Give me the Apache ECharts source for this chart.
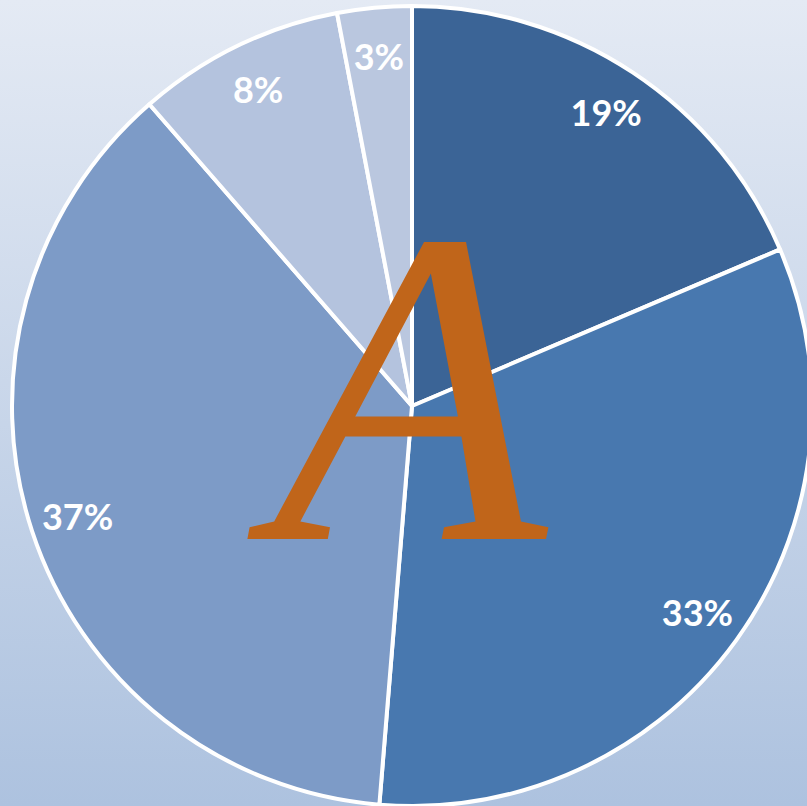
<!DOCTYPE html>
<html>
<head>
<meta charset="utf-8">
<script src="https://cdn.jsdelivr.net/npm/echarts@6/dist/echarts.min.js"></script>
<style>
  html, body { margin: 0; padding: 0; }
  #chart { width: 807px; height: 806px; }
</style>
</head>
<body>
<div id="chart"></div>
<script>
var sliceNames = ['A', 'B', 'C', 'D', 'E'];
var sliceValues = [18.6, 32.7, 37.3, 8.4, 3.0];
var sliceColors = ['#3B6496', '#4878AF', '#7D9BC7', '#B4C3DE', '#BAC7DF'];

(function() {
  var chart = echarts.init(document.getElementById('chart'), null, { renderer: 'svg' });

  var data = sliceValues.map(function(v, i) {
    return { name: sliceNames[i], value: v, itemStyle: { color: sliceColors[i] } };
  });

  chart.setOption({
    animation: false,
    backgroundColor: {
      type: 'linear', x: 0, y: 0, x2: 0, y2: 1,
      colorStops: [
        { offset: 0, color: '#E4EAF4' },
        { offset: 1, color: '#ADC2DF' }
      ]
    },
    series: [{
      type: 'pie',
      center: [412, 406],
      radius: [0, 400],
      startAngle: 90,
      clockwise: true,
      label: { show: false },
      labelLine: { show: false },
      itemStyle: { borderColor: '#FFFFFF', borderWidth: 4 },
      data: data
    }, {
      // label carrier ring so labels sit near the rim
      type: 'pie',
      silent: true,
      center: [412, 406],
      radius: [298, 400],
      startAngle: 90,
      clockwise: true,
      itemStyle: { color: 'transparent' },
      labelLine: { show: false },
      label: {
        show: true,
        position: 'inside',
        color: '#FFFFFF',
        fontFamily: 'Lato',
        fontWeight: 'bold',
        fontSize: 36,
        formatter: function(p) { return Math.round(p.percent) + '%'; }
      },
      data: sliceValues.map(function(v, i) { return { name: sliceNames[i], value: v }; })
    }],
    graphic: [{
      type: 'text',
      left: 272,
      top: 162,
      z: 100,
      style: {
        text: 'A',
        fill: '#C0651A',
        font: 'italic 450px "Liberation Serif"'
      }
    }]
  });
})();
</script>
</body>
</html>
